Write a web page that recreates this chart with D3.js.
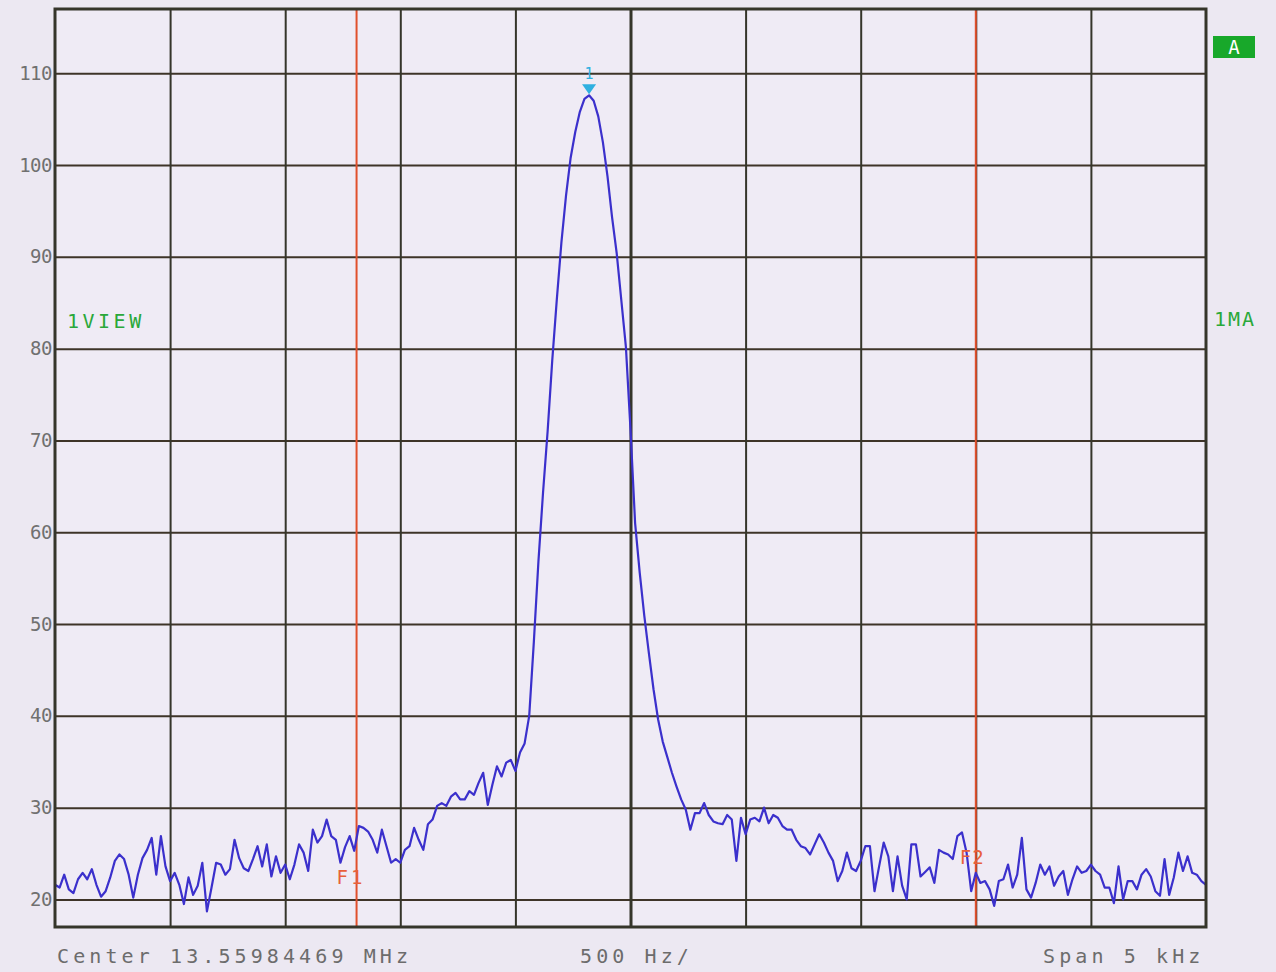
<!DOCTYPE html>
<html>
<head>
<meta charset="utf-8">
<script src="https://cdn.jsdelivr.net/npm/d3@7"></script>
<style>
  body { margin: 0; background: #ece8f2; }
  svg { display: block; }
  .mono { font-family: "DejaVu Sans Mono", monospace; }
</style>
</head>
<body>
<div id="chart"></div>
<script>
// trace: level in dB, one point every 20 Hz from -2500 Hz to +2500 Hz around center
const startHz = -2500;
const stepHz = 20;
const levels = [
  21.6, 21.3, 22.7, 21.1, 20.7, 22.2, 22.9, 22.2, 23.3, 21.6,
  20.3, 20.9, 22.4, 24.2, 24.9, 24.4, 22.7, 20.2, 22.7, 24.5,
  25.4, 26.7, 22.7, 26.9, 23.6, 22.0, 22.9, 21.6, 19.5, 22.4,
  20.5, 21.5, 24.0, 18.7, 21.3, 24.0, 23.8, 22.7, 23.3, 26.5,
  24.5, 23.4, 23.1, 24.4, 25.8, 23.6, 26.0, 22.5, 24.7, 22.9,
  23.8, 22.2, 23.8, 26.0, 25.1, 23.1, 27.6, 26.2, 26.9, 28.7,
  26.9, 26.5, 24.0, 25.7, 26.9, 25.3, 28.0, 27.8, 27.4, 26.5,
  25.1, 27.6, 25.8, 24.0, 24.4, 24.0, 25.4, 25.8, 27.8, 26.5,
  25.4, 28.2, 28.7, 30.2, 30.5, 30.2, 31.2, 31.6, 30.9, 30.9,
  31.8, 31.4, 32.7, 33.8, 30.3, 32.5, 34.5, 33.4, 34.9, 35.2,
  34.0, 36.0, 37.0, 40.0, 48.0, 56.8, 64.3, 71.0, 78.7, 85.4,
  91.6, 96.7, 100.8, 103.6, 105.8, 107.2, 107.6, 107.0, 105.3, 102.5,
  98.8, 94.3, 90.4, 85.3, 80.2, 71.2, 61.0, 55.6, 50.9, 46.8,
  42.9, 39.6, 37.2, 35.5, 33.8, 32.3, 30.9, 29.8, 27.6, 29.4,
  29.4, 30.5, 29.2, 28.5, 28.3, 28.2, 29.2, 28.7, 24.2, 28.9,
  27.1, 28.7, 28.9, 28.5, 30.0, 28.3, 29.2, 28.9, 28.0, 27.6,
  27.6, 26.5, 25.8, 25.6, 24.9, 26.0, 27.1, 26.2, 25.1, 24.2,
  22.0, 23.1, 25.1, 23.4, 23.1, 24.2, 25.8, 25.8, 20.9, 23.6,
  26.2, 24.7, 20.9, 24.7, 21.5, 20.0, 26.0, 26.0, 22.5, 23.0,
  23.5, 21.8, 25.4, 25.1, 24.9, 24.4, 26.9, 27.3, 25.1, 20.9,
  22.9, 21.8, 22.0, 21.1, 19.3, 22.0, 22.2, 23.8, 21.3, 22.7,
  26.7, 21.1, 20.2, 21.8, 23.8, 22.7, 23.6, 21.5, 22.5, 23.1,
  20.5, 22.2, 23.6, 22.9, 23.1, 23.8, 23.1, 22.7, 21.3, 21.3,
  19.6, 23.6, 20.0, 22.0, 22.0, 21.1, 22.7, 23.3, 22.5, 20.9,
  20.4, 24.4, 20.5, 22.4, 25.1, 23.1, 24.7, 22.9, 22.7, 22.0, 21.6
];

const yTicks = [20, 30, 40, 50, 60, 70, 80, 90, 100, 110];
const xGridHz = [-2000, -1500, -1000, -500, 0, 500, 1000, 1500, 2000];
const markerNames = ["F1", "F2"];
const markerHz = [-1190, 1500];
const peakLabel = "1";

const centerText = "Center 13.55984469 MHz";
const divText = "500 Hz/";
const spanText = "Span 5 kHz";

const width = 1276, height = 972;
const margin = {top: 9, right: 70, bottom: 45, left: 55};
const innerW = width - margin.left - margin.right;
const innerH = height - margin.top - margin.bottom;

const svg = d3.select("#chart").append("svg")
    .attr("width", width)
    .attr("height", height);

svg.append("rect")
    .attr("width", width).attr("height", height)
    .attr("fill", "#ece8f2");

const g = svg.append("g")
    .attr("transform", `translate(${margin.left},${margin.top})`);

const x = d3.scaleLinear().domain([-2500, 2500]).range([0, innerW]);
const y = d3.scaleLinear().domain([17, 117]).range([innerH, 0]);

g.append("rect")
    .attr("width", innerW).attr("height", innerH)
    .attr("fill", "#efebf5");

// horizontal grid + labels
const yAxis = g.append("g")
    .call(d3.axisLeft(y).tickValues(yTicks).tickSize(-innerW).tickFormat(d3.format("d")));
yAxis.select(".domain").remove();
yAxis.selectAll("line")
    .attr("stroke", "#3e3428").attr("stroke-width", 2);
yAxis.selectAll("text")
    .attr("class", "mono")
    .attr("x", -3)
    .attr("fill", "#707070")
    .style("font-size", "19px")
    .style("letter-spacing", "-0.5px");

// vertical grid
const xAxis = g.append("g")
    .attr("transform", `translate(0,${innerH})`)
    .call(d3.axisBottom(x).tickValues(xGridHz).tickSize(-innerH).tickFormat(""));
xAxis.select(".domain").remove();
xAxis.selectAll("line")
    .attr("stroke", "#35352a")
    .attr("stroke-width", d => d === 0 ? 3 : 2);

// frequency markers
markerHz.forEach(f => {
    g.append("line")
        .attr("x1", x(f)).attr("x2", x(f))
        .attr("y1", 0).attr("y2", innerH)
        .attr("stroke", "#e0502c").attr("stroke-width", 2);
});

// trace
const line = d3.line()
    .x((d, i) => x(startHz + i * stepHz))
    .y(d => y(d));

g.append("path")
    .datum(levels)
    .attr("fill", "none")
    .attr("stroke", "#3b30cc")
    .attr("stroke-width", 2.2)
    .attr("stroke-linejoin", "round")
    .attr("d", line);

// marker labels
g.append("text").attr("class", "mono")
    .attr("x", x(markerHz[0]) - 20).attr("y", 884 - margin.top)
    .attr("fill", "#e8603a").style("font-size", "19px").style("letter-spacing", "3px")
    .text(markerNames[0]);
g.append("text").attr("class", "mono")
    .attr("x", x(markerHz[1]) - 16).attr("y", 864 - margin.top)
    .attr("fill", "#e8603a").style("font-size", "19px").style("letter-spacing", "1px")
    .text(markerNames[1]);

// peak marker
const peakIdx = d3.maxIndex(levels);
const px = x(startHz + peakIdx * stepHz);
const py = y(levels[peakIdx]);
g.append("path")
    .attr("d", `M${px - 7},${py - 11}L${px + 7},${py - 11}L${px},${py - 1}Z`)
    .attr("fill", "#2fb0e0");
g.append("text").attr("class", "mono")
    .attr("x", px).attr("y", py - 16)
    .attr("text-anchor", "middle")
    .attr("fill", "#2fb0e0").style("font-size", "15px")
    .text(peakLabel);

// frame
g.append("rect")
    .attr("width", innerW).attr("height", innerH)
    .attr("fill", "none")
    .attr("stroke", "#35352a").attr("stroke-width", 3);

// annotations
const bottomY = 963;
svg.append("text").attr("class", "mono")
    .attr("x", 57).attr("y", bottomY)
    .attr("fill", "#6c6c6c").style("font-size", "20px").style("letter-spacing", "4.1px")
    .text(centerText);
svg.append("text").attr("class", "mono")
    .attr("x", 580).attr("y", bottomY)
    .attr("fill", "#6c6c6c").style("font-size", "20px").style("letter-spacing", "4.1px")
    .text(divText);
svg.append("text").attr("class", "mono")
    .attr("x", 1043).attr("y", bottomY)
    .attr("fill", "#6c6c6c").style("font-size", "20px").style("letter-spacing", "4.1px")
    .text(spanText);

svg.append("text").attr("class", "mono")
    .attr("x", 67).attr("y", 328)
    .attr("fill", "#2aa83a").style("font-size", "20px")
    .style("letter-spacing", "3.5px")
    .text("1VIEW");
svg.append("text").attr("class", "mono")
    .attr("x", 1214).attr("y", 326)
    .attr("fill", "#2aa83a").style("font-size", "20px")
    .style("letter-spacing", "2px")
    .text("1MA");

svg.append("rect")
    .attr("x", 1213).attr("y", 36).attr("width", 42).attr("height", 22)
    .attr("fill", "#18a82a");
svg.append("text").attr("class", "mono")
    .attr("x", 1234).attr("y", 54)
    .attr("text-anchor", "middle")
    .attr("fill", "#ffffff").style("font-size", "19px")
    .text("A");
</script>
</body>
</html>
